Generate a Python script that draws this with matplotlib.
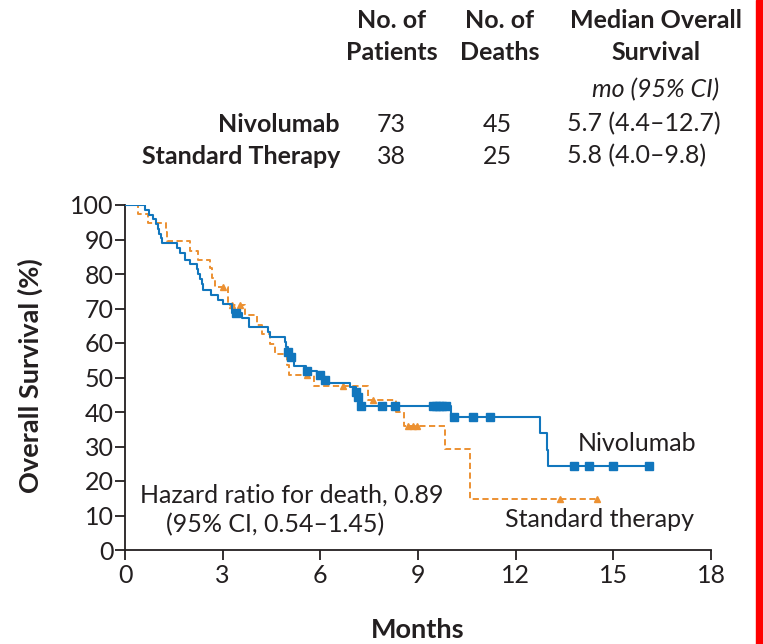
import numpy as np
import matplotlib.pyplot as plt

plt.rcParams['font.family'] = ['Lato', 'DejaVu Sans']

W, H = 763, 644
TEXT = '#231f20'
BLUE = '#1176bd'
ORANGE = '#ec9132'

# Kaplan-Meier step points: time (months) and survival (%) after each step
nivo_t = [0, 0.6, 0.75, 0.85, 0.95, 1.0, 1.05, 1.1, 1.13, 1.6, 1.7, 1.85, 2.0,
          2.2, 2.25, 2.3, 2.35, 2.4, 2.65, 2.85, 3.0, 3.3, 3.6, 3.8, 4.4, 4.45,
          4.9, 4.95, 5.0, 5.1, 5.2, 5.55, 5.9, 6.1, 6.2, 6.9, 7.1, 7.15, 7.2,
          7.25, 10.0, 12.75, 12.95, 13.0]
nivo_s = [100, 98.6, 97.2, 95.8, 94.4, 93.0, 91.6, 90.3, 89.0, 87.5, 86.0, 84.0,
          83.0, 81.5, 80.0, 78.5, 77.0, 75.4, 74.0, 72.6, 71.2, 68.8, 67.2, 64.7,
          63.3, 61.8, 60.3, 58.9, 57.5, 56.0, 53.3, 52.0, 50.7, 49.3, 48.5, 47.2,
          45.8, 44.4, 43.0, 41.8, 38.5, 34.0, 29.0, 24.4]
nivo_end = 16.1
nivo_cens = [3.4, 5.0, 5.1, 5.6, 6.0, 6.15, 7.1, 7.15, 7.25, 7.9, 8.3, 9.45,
             9.55, 9.65, 9.75, 9.85, 10.1, 10.7, 11.2, 13.8, 14.25, 15.0, 16.1]

std_t = [0, 0.4, 0.7, 1.25, 1.28, 2.0, 2.25, 2.62, 2.66, 2.76, 3.15, 3.17, 3.68,
         4.04, 4.2, 4.45, 4.6, 4.97, 5.05, 5.8, 7.47, 8.32, 8.57, 9.83, 10.6]
std_s = [100, 97.4, 94.7, 92.1, 89.5, 86.8, 84.2, 81.6, 78.9, 76.3, 73.6, 70.9,
         68.1, 65.3, 62.5, 59.7, 56.9, 53.5, 50.7, 47.5, 43.5, 40.1, 35.8, 29.3,
         14.9]
std_end = 14.5
std_cens = [3.0, 3.28, 3.53, 5.58, 6.7, 7.63, 8.7, 8.85, 8.97, 13.36, 14.5]

# Summary table
arms = ['Nivolumab', 'Standard Therapy']
n_patients = ['73', '38']
n_deaths = ['45', '25']
median_os = ['5.7 (4.4\u201312.7)', '5.8 (4.0\u20139.8)']

x_ticks = [0, 3, 6, 9, 12, 15, 18]
y_ticks = list(range(0, 101, 10))

FS = 18


def step_xy(t, s, end):
    return list(t) + [end], list(s) + [s[-1]]


def surv_at(t, s, times):
    idx = np.searchsorted(t, times, side='right') - 1
    return np.asarray(s)[idx]


def fx(x):
    return x / W


def fy(y):
    return 1 - y / H


fig = plt.figure(figsize=(W / 100, H / 100), dpi=100)
ax = fig.add_axes([fx(125), fy(550), fx(711) - fx(125), fy(205) - fy(550)])

xs, ys = step_xy(std_t, std_s, std_end)
ax.step(xs, ys, where='post', color=ORANGE, lw=1.4, ls=(0, (3.2, 1.8)),
        zorder=2)
ax.plot(std_cens, surv_at(std_t, std_s, std_cens), ls='none', marker='^',
        ms=5, color=ORANGE, mec=ORANGE, zorder=3)

xs, ys = step_xy(nivo_t, nivo_s, nivo_end)
ax.step(xs, ys, where='post', color=BLUE, lw=1.5, zorder=4)
ax.plot(nivo_cens, surv_at(nivo_t, nivo_s, nivo_cens), ls='none', marker='s',
        ms=6, color=BLUE, mec=BLUE, zorder=5)

ax.set_xlim(0, 18)
ax.set_ylim(0, 100)
ax.set_xticks(x_ticks)
ax.set_yticks(y_ticks)
for side in ('top', 'right'):
    ax.spines[side].set_visible(False)
for side in ('left', 'bottom'):
    ax.spines[side].set_color(TEXT)
    ax.spines[side].set_linewidth(1.3)
ax.tick_params(direction='out', length=7, width=1.3, color=TEXT,
               labelsize=FS, labelcolor=TEXT, pad=1)
ax.tick_params(axis='x', pad=3)

fig.text(fx(30), fy(376), 'Overall Survival (%)', fontsize=19.5,
         fontweight='bold', color=TEXT, rotation=90, ha='center', va='center')
fig.text(fx(418), fy(630), 'Months', fontsize=19.5, fontweight='bold',
         color=TEXT, ha='center', va='center')

ax.text(13.9, 31, 'Nivolumab', fontsize=FS, color=TEXT, va='center')
ax.text(11.67, 8.7, 'Standard therapy', fontsize=FS, color=TEXT, va='center')
ax.text(0.46, 16, 'Hazard ratio for death, 0.89', fontsize=FS, color=TEXT,
        va='center')
ax.text(1.26, 7.3, '(95% CI, 0.54\u20131.45)', fontsize=FS, color=TEXT,
        va='center')

# Table above the plot
hdr = dict(fontsize=FS, fontweight='bold', color=TEXT, ha='center',
           va='center')
fig.text(fx(392), fy(20), 'No. of', **hdr)
fig.text(fx(392), fy(52), 'Patients', **hdr)
fig.text(fx(500), fy(20), 'No. of', **hdr)
fig.text(fx(500), fy(52), 'Deaths', **hdr)
fig.text(fx(656), fy(20), 'Median Overall', **hdr)
fig.text(fx(656), fy(52), 'Survival', **hdr)
fig.text(fx(656), fy(90), 'mo (95% CI)', fontsize=FS, style='italic',
         color=TEXT, ha='center', va='center')

for i, arm in enumerate(arms):
    y = fy(124 + 32 * i)
    fig.text(fx(340), y, arm, fontsize=FS, fontweight='bold', color=TEXT,
             ha='right', va='center')
    fig.text(fx(391), y, n_patients[i], fontsize=FS, color=TEXT,
             ha='center', va='center')
    fig.text(fx(497), y, n_deaths[i], fontsize=FS, color=TEXT,
             ha='center', va='center')
    fig.text(fx(567), y, median_os[i], fontsize=FS, color=TEXT,
             ha='left', va='center')

fig.patches.append(plt.Rectangle((fx(756), 0), fx(7), 1, color='#ff0000',
                                 transform=fig.transFigure, figure=fig))

fig.savefig('out.png', dpi=100)
